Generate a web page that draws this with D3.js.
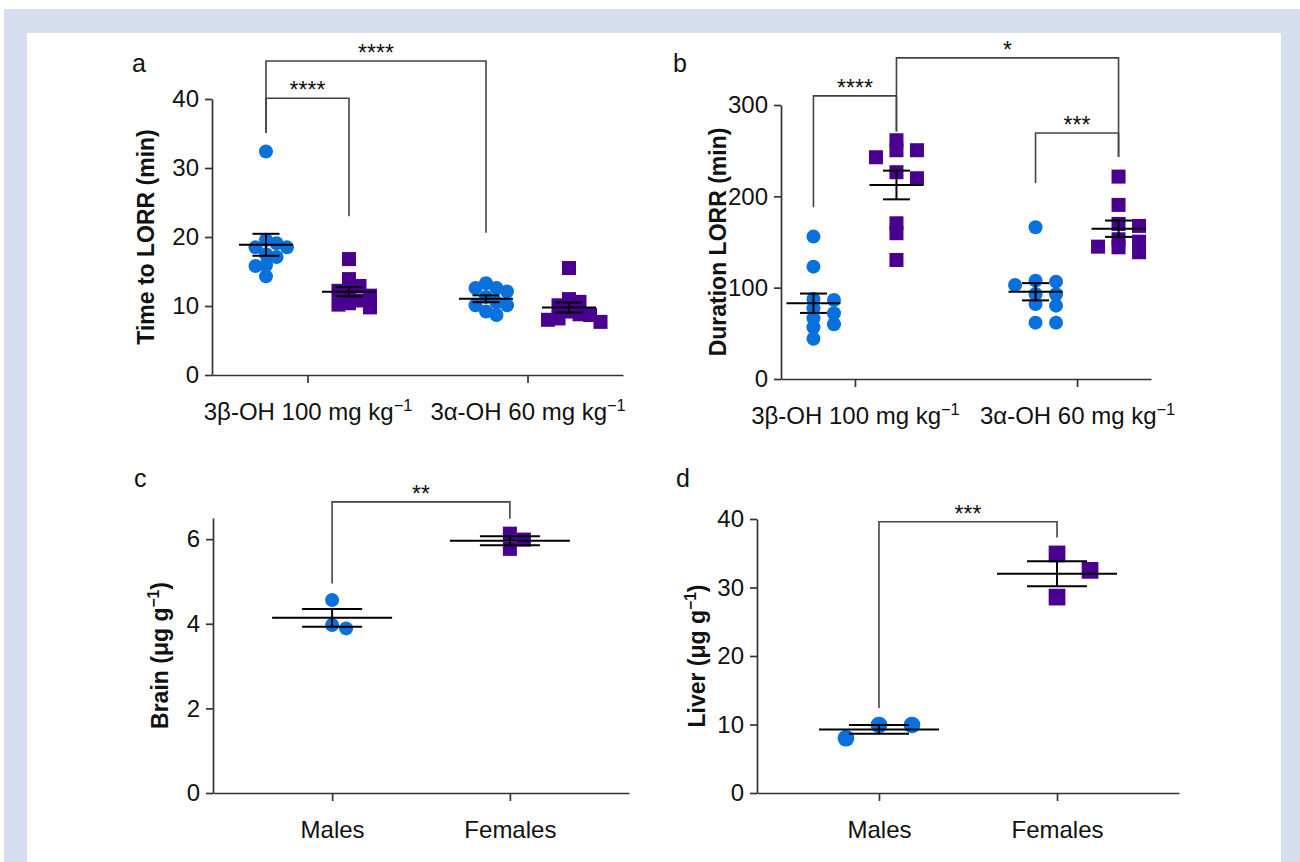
<!DOCTYPE html>
<html>
<head>
<meta charset="utf-8">
<script src="https://cdn.jsdelivr.net/npm/d3@7"></script>
<style>
  body { margin: 0; background: #fff; }
  svg text { font-family: "Liberation Sans", Arial, sans-serif; fill: #111; }
</style>
</head>
<body>
<div id="chart"></div>
<script>
/* =========================
   DATA
   ========================= */

const doseGroups = ["3β-OH 100 mg kg", "3α-OH 60 mg kg"];
const sexes = ["Males", "Females"];

// panel a : time to LORR (min)
const aBetaCircles  = [32.4, 19.1, 19.6, 18.5, 18.5, 17.5, 17.1, 15.9, 15.8, 14.3];
const aBetaSquares  = [16.8, 13.9, 12.9, 12.2, 12.2, 11.5, 10.2, 10.4, 9.8, 10.8];
const aAlphaCircles = [12.1, 13.3, 12.6, 12.6, 11.3, 10.5, 10.1, 10.1, 9.2, 8.7];
const aAlphaSquares = [15.5, 10.1, 10.6, 11.0, 8.7, 7.7, 8.2, 8.0, 9.2, 8.8];

// panel b : duration LORR (min)
const bBetaCircles  = [155.9, 123, 86.5, 87.6, 77.4, 72, 66.5, 59.9, 56.6, 44.1];
const bBetaSquares  = [261.4, 250.5, 250.5, 242.8, 226.4, 219.8, 170.5, 159.6, 130.3];
const bAlphaCircles = [166.2, 103, 107.7, 106.6, 92.8, 93.1, 82.1, 80.3, 61.7, 61.7];
const bAlphaSquares = [221.6, 190.6, 169.8, 167.6, 153, 150.4, 144.2, 144.9, 138.8];

// panel c : brain (µg/g)
const cMales   = [4.56, 3.89, 3.97];
const cFemales = [6.13, 5.77, 5.99];

// panel d : liver (µg/g)
const dMales   = [9.93, 7.99, 9.93];
const dFemales = [34.9, 32.5, 28.6];

// ticks
const aTicks = [0, 10, 20, 30, 40];
const bTicks = [0, 100, 200, 300];
const cTicks = [0, 2, 4, 6];
const dTicks = [0, 10, 20, 30, 40];

// significance brackets : [from, to] = [group, series], top / legs in data units
const aBrackets = [
  { from: [0, 0], to: [0, 1], top: 40.1, leg1: 35.1, leg2: 23.0, label: "****" },
  { from: [0, 0], to: [1, 0], top: 45.5, leg1: 35.1, leg2: 20.6, label: "****" }
];
const bBrackets = [
  { from: [0, 0], to: [0, 1], top: 310, leg1: 188, leg2: 271, label: "****" },
  { from: [0, 1], to: [1, 1], top: 351.6, leg1: 271, leg2: 243, label: "*" },
  { from: [1, 0], to: [1, 1], top: 269.4, leg1: 214.3, leg2: 243, label: "***" }
];
const cBrackets = [{ from: [0, 0], to: [1, 0], top: 6.88, leg1: 4.95, leg2: 6.48, label: "**" }];
const dBrackets = [{ from: [0, 0], to: [1, 0], top: 39.6, leg1: 12.4, leg2: 37.3, label: "***" }];

/* =========================
   CONFIGURATION
   ========================= */

const WIDTH = 1300;
const HEIGHT = 862;
const BLUE = "#0a70dc";
const PURPLE = "#490091";
const AXIS = "#333";
const FONT = 24;
const TITLE_FONT = 23;

const svg = d3.select("#chart").append("svg")
  .attr("width", WIDTH)
  .attr("height", HEIGHT);

// cadre
svg.append("rect").attr("x", 4).attr("y", 9)
  .attr("width", WIDTH - 4).attr("height", HEIGHT - 9).attr("fill", "#d5ddef");
svg.append("rect").attr("x", 27).attr("y", 33)
  .attr("width", 1254).attr("height", HEIGHT - 33).attr("fill", "#fff");

/* =========================
   HELPERS
   ========================= */

// scatter en colonnes (style Prism) : colonne la plus proche du centre
// où aucun point déjà placé n'est à moins de minDy verticalement
function columns(vals, y, step, minDy) {
  const pts = vals.map(v => ({ y: y(v), x: 0 }));
  const placed = [];
  const cols = [0];
  for (let k = 1; k < 8; k++) cols.push(k * step, -k * step);
  pts.slice().sort((a, b) => a.y - b.y).forEach(p => {
    p.x = cols.find(c => placed.every(q => q.x !== c || Math.abs(q.y - p.y) >= minDy));
    placed.push(p);
  });
  return pts.map(p => p.x);
}

function supLabel(sel, main, sup, tail) {
  sel.text(null);
  sel.append("tspan").text(main);
  sel.append("tspan").attr("dy", -9).attr("font-size", "0.68em").text(sup);
  if (tail) sel.append("tspan").attr("dy", 9).text(tail);
}

function drawPanel(cfg) {
  const g = svg.append("g");
  const y = d3.scaleLinear().domain(cfg.yDomain).range(cfg.yRange);
  const x = d3.scalePoint().domain(cfg.groups).range(cfg.xRange).padding(cfg.pad);
  const sub = d3.scalePoint().domain(d3.range(cfg.nSeries)).range([-cfg.subHalf, cfg.subHalf]);
  const xPos = (gi, si) => x(cfg.groups[gi]) + (cfg.nSeries > 1 ? sub(si) : 0);

  // axes
  const yAxis = g.append("g")
    .attr("transform", `translate(${cfg.xRange[0]},0)`)
    .call(d3.axisLeft(y).tickValues(cfg.ticks).tickFormat(d3.format("d"))
      .tickSize(7).tickSizeOuter(0).tickPadding(6));
  const xAxis = g.append("g")
    .attr("transform", `translate(0,${cfg.yRange[0]})`)
    .call(d3.axisBottom(x).tickSize(8).tickSizeOuter(0).tickPadding(19.5));
  [yAxis, xAxis].forEach(a => {
    a.selectAll("path, line").attr("stroke", AXIS).attr("stroke-width", 1.7);
    a.selectAll("text").attr("font-size", FONT).attr("fill", "#111")
      .attr("font-family", '"Liberation Sans", Arial, sans-serif');
  });
  if (cfg.sup) xAxis.selectAll(".tick text").each(function (d) { supLabel(d3.select(this), d, "−1"); });

  // titre axe y
  const yt = g.append("text")
    .attr("transform", `translate(${cfg.titleX},${(cfg.yRange[0] + cfg.yRange[1]) / 2}) rotate(-90)`)
    .attr("text-anchor", "middle").attr("font-size", TITLE_FONT).attr("font-weight", "bold");
  if (cfg.titleSup) supLabel(yt, cfg.title, "−1", ")");
  else yt.text(cfg.title);

  // lettre du panneau
  g.append("text").attr("x", cfg.letterX).attr("y", cfg.letterY)
    .attr("font-size", 25).text(cfg.letter);

  // points + moyenne ± SEM
  cfg.series.forEach(s => {
    const cx = xPos(s.group, s.index);
    const offs = columns(s.values, y, cfg.step, cfg.minDy);
    if (s.shape === "circle") {
      g.selectAll(null).data(s.values).enter().append("circle")
        .attr("cx", (d, i) => cx + offs[i]).attr("cy", d => y(d))
        .attr("r", cfg.size / 2).attr("fill", BLUE);
    } else {
      g.selectAll(null).data(s.values).enter().append("rect")
        .attr("x", (d, i) => cx + offs[i] - cfg.size / 2).attr("y", d => y(d) - cfg.size / 2)
        .attr("width", cfg.size).attr("height", cfg.size).attr("fill", PURPLE);
    }
    const m = d3.mean(s.values);
    const sem = d3.deviation(s.values) / Math.sqrt(s.values.length);
    const lines = [
      [cx - cfg.meanHalf, y(m), cx + cfg.meanHalf, y(m)],
      [cx - cfg.meanHalf / 2, y(m + sem), cx + cfg.meanHalf / 2, y(m + sem)],
      [cx - cfg.meanHalf / 2, y(m - sem), cx + cfg.meanHalf / 2, y(m - sem)],
      [cx, y(m - sem), cx, y(m + sem)]
    ];
    g.selectAll(null).data(lines).enter().append("line")
      .attr("x1", d => d[0]).attr("y1", d => d[1]).attr("x2", d => d[2]).attr("y2", d => d[3])
      .attr("stroke", "#000").attr("stroke-width", 2);
  });

  // crochets de significativité
  cfg.brackets.forEach(b => {
    const x1 = xPos(...b.from);
    const x2 = xPos(...b.to);
    g.append("path")
      .attr("d", `M${x1},${y(b.leg1)}V${y(b.top)}H${x2}V${y(b.leg2)}`)
      .attr("fill", "none").attr("stroke", "#444").attr("stroke-width", 1.6);
    g.append("text").attr("x", (x1 + x2) / 2).attr("y", y(b.top))
      .attr("text-anchor", "middle").attr("font-size", 23).text(b.label);
  });
}

/* =========================
   PANNEAUX
   ========================= */

drawPanel({
  letter: "a", letterX: 132, letterY: 72,
  groups: doseGroups, nSeries: 2, subHalf: 41.5, sup: true,
  xRange: [212, 623], pad: 0.434,
  yDomain: [0, 40], yRange: [375, 99], ticks: aTicks,
  title: "Time to LORR (min)", titleX: 154,
  size: 14, step: 10.5, minDy: 11, meanHalf: 27,
  series: [
    { group: 0, index: 0, shape: "circle", values: aBetaCircles },
    { group: 0, index: 1, shape: "square", values: aBetaSquares },
    { group: 1, index: 0, shape: "circle", values: aAlphaCircles },
    { group: 1, index: 1, shape: "square", values: aAlphaSquares }
  ],
  brackets: aBrackets
});

drawPanel({
  letter: "b", letterX: 673, letterY: 72,
  groups: doseGroups, nSeries: 2, subHalf: 41.5, sup: true,
  xRange: [781, 1151], pad: 0.333,
  yDomain: [0, 300], yRange: [379, 105], ticks: bTicks,
  title: "Duration LORR (min)", titleX: 726,
  size: 14, step: 20.5, minDy: 8, meanHalf: 27,
  series: [
    { group: 0, index: 0, shape: "circle", values: bBetaCircles },
    { group: 0, index: 1, shape: "square", values: bBetaSquares },
    { group: 1, index: 0, shape: "circle", values: bAlphaCircles },
    { group: 1, index: 1, shape: "square", values: bAlphaSquares }
  ],
  brackets: bBrackets
});

drawPanel({
  letter: "c", letterX: 134, letterY: 487,
  groups: sexes, nSeries: 1, subHalf: 0,
  xRange: [213, 629], pad: 0.67,
  yDomain: [0, 6.5], yRange: [793, 518], ticks: cTicks,
  title: "Brain (μg g", titleSup: true, titleX: 168,
  size: 14, step: 14, minDy: 14, meanHalf: 60,
  series: [
    { group: 0, index: 0, shape: "circle", values: cMales },
    { group: 1, index: 0, shape: "square", values: cFemales }
  ],
  brackets: cBrackets
});

drawPanel({
  letter: "d", letterX: 676, letterY: 487,
  groups: sexes, nSeries: 1, subHalf: 0,
  xRange: [757, 1179], pad: 0.685,
  yDomain: [0, 40], yRange: [793, 519], ticks: dTicks,
  title: "Liver (μg g", titleSup: true, titleX: 705,
  size: 16.7, step: 33, minDy: 16.7, meanHalf: 60,
  series: [
    { group: 0, index: 0, shape: "circle", values: dMales },
    { group: 1, index: 0, shape: "square", values: dFemales }
  ],
  brackets: dBrackets
});
</script>
</body>
</html>
